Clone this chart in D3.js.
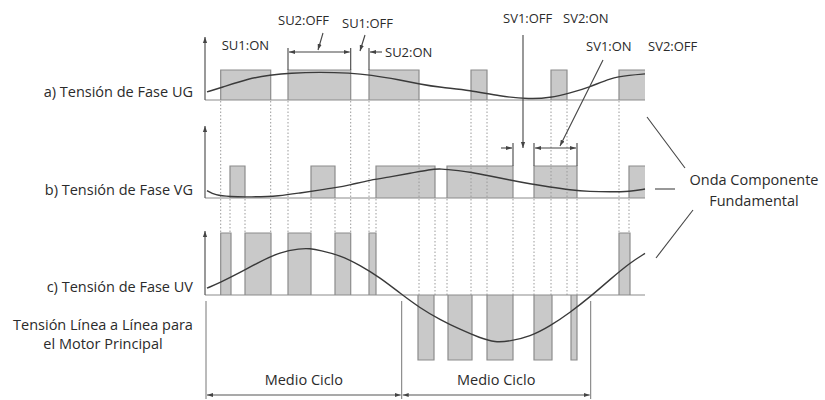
<!DOCTYPE html>
<html><head><meta charset="utf-8">
<script src="https://cdn.jsdelivr.net/npm/d3@7"></script>
<style>
body{margin:0;background:#fff;}
text{font-family:"Open Sans","Noto Sans",sans-serif;fill:#2b2b2b;}
</style>
</head><body>
<svg id="chart" width="825" height="400"></svg>
<script>
// ---------- DATA (time units along the horizontal axis, 0..440) ----------
const panelLabels = ["a) Tensión de Fase UG", "b) Tensión de Fase VG", "c) Tensión de Fase UV"];
const lineLabel = ["Tensión Línea a Línea para", "el Motor Principal"];
const fundamentalLabel = ["Onda Componente", "Fundamental"];
const halfCycleLabel = "Medio Ciclo";
const halfCycleBounds = [1, 196.7, 385.7];

// switching pulses [start, end]
const uPulses = [[15.7, 65.7], [83, 145.7], [164, 214], [266, 282], [346, 362], [414, 440]];
const vPulses = [[25, 40], [106, 130], [171, 230], [242, 308], [329, 372], [424, 440]];
const uvPosPulses = [[15.7, 26], [40, 66], [83, 106], [130, 145.7], [164, 171], [414, 425]];
const uvNegPulses = [[213, 229], [243, 267], [282, 308], [329, 347], [366, 372]];

// fundamental waves [t, level]
const ugWave = [[2,0.27],[15,0.4],[45,0.73],[65,0.83],[85,0.9],[115,0.93],[145,0.9],[165,0.84],[195,0.67],[215,0.53],[235,0.42],[265,0.33],[295,0.12],[325,0.03],[345,0.07],[365,0.23],[385,0.43],[405,0.73],[425,0.83],[440,0.87]];
const vgWave = [[2,0.23],[10,0.09],[25,0.04],[45,0.03],[75,0.06],[95,0.16],[115,0.25],[130,0.32],[145,0.41],[165,0.56],[185,0.66],[205,0.77],[225,0.89],[235,0.92],[255,0.85],[265,0.81],[285,0.69],[305,0.56],[325,0.44],[345,0.34],[365,0.25],[385,0.2],[405,0.19],[425,0.2],[440,0.28]];
const uvWave = [[2,0.11],[15,0.2],[35,0.36],[55,0.54],[75,0.69],[95,0.75],[105,0.75],[115,0.72],[135,0.64],[155,0.48],[175,0.28],[195,0.03],[215,-0.2],[235,-0.38],[255,-0.53],[275,-0.66],[290,-0.73],[305,-0.71],[325,-0.64],[345,-0.48],[365,-0.27],[385,-0.03],[405,0.25],[425,0.52],[440,0.67]];

// ---------- SCALES ----------
const svg = d3.select("#chart");
const x = d3.scaleLinear().domain([0, 440]).range([205, 645]);
const ya = d3.scaleLinear().domain([0, 1]).range([100, 70]);
const yb = d3.scaleLinear().domain([0, 1]).range([198, 166]);
const yc = d3.scaleLinear().domain([-1, 0, 1]).range([360, 295, 233]);

const lineCol = "#555", pulseStroke = "#8c8c8c", pulseFill = "#c9c9c9";
const labelSize = 14.5, annSize = 13;

const defs = svg.append("defs");
function marker(id, orient) {
  defs.append("marker").attr("id", id).attr("viewBox", "0 0 10 10")
    .attr("refX", 10).attr("refY", 5).attr("markerWidth", 6).attr("markerHeight", 6)
    .attr("orient", orient).attr("markerUnits", "userSpaceOnUse")
    .append("path").attr("d", "M0,1.5 L10,5 L0,8.5 Z").attr("fill", "#444");
}
marker("arr", "auto");
marker("arrS", "auto-start-reverse");

// ---------- PULSES ----------
function drawPulses(pulses, y, level) {
  svg.append("g").selectAll("rect").data(pulses).join("rect")
    .attr("x", d => x(d[0])).attr("width", d => x(d[1]) - x(d[0]))
    .attr("y", d => Math.min(y(level), y(0))).attr("height", d => Math.abs(y(level) - y(0)))
    .attr("fill", pulseFill);
}
function drawWave(pulseSets, y) {
  svg.append("line").attr("x1", x(0)).attr("x2", x(440)).attr("y1", y(0)).attr("y2", y(0))
    .attr("stroke", pulseStroke).attr("stroke-width", 1.2);
  pulseSets.forEach(([pulses, level]) => {
    pulses.forEach(p => {
      const pts = [[p[0], 0], [p[0], level], [p[1], level]];
      if (p[1] < 440) pts.push([p[1], 0]);
      svg.append("path").attr("d", d3.line().x(d => x(d[0])).y(d => y(d[1]))(pts))
        .attr("fill", "none").attr("stroke", pulseStroke).attr("stroke-width", 1.2);
    });
  });
}
drawPulses(uPulses, ya, 1);
drawPulses(vPulses, yb, 1);
drawPulses(uvPosPulses, yc, 1);
drawPulses(uvNegPulses, yc, -1);

// ---------- DOTTED PROJECTION LINES ----------
const negEdges = uvNegPulses.flat();
function endY(t) {
  return negEdges.some(e => Math.abs(e - t) < 4.5) ? yc(0) : yc(1);
}
const uEdges = uPulses.flat().filter(t => t < 440);
const vEdges = vPulses.flat().filter(t => t < 440);
const dots = svg.append("g").attr("stroke", "#9a9a9a").attr("stroke-width", 1).attr("stroke-dasharray", "1.5,2");
uEdges.forEach(t => dots.append("line").attr("x1", x(t)).attr("x2", x(t)).attr("y1", ya(0) + 1).attr("y2", endY(t)));
vEdges.forEach(t => dots.append("line").attr("x1", x(t)).attr("x2", x(t)).attr("y1", yb(0) + 1).attr("y2", endY(t)));

drawWave([[uPulses, 1]], ya);
drawWave([[vPulses, 1]], yb);
drawWave([[uvPosPulses, 1], [uvNegPulses, -1]], yc);

// ---------- FUNDAMENTAL WAVES ----------
[[ugWave, ya], [vgWave, yb], [uvWave, yc]].forEach(([w, y]) => {
  svg.append("path").attr("d", d3.line().x(d => x(d[0])).y(d => y(d[1])).curve(d3.curveBasis)(w))
    .attr("fill", "none").attr("stroke", "#3a3a3a").attr("stroke-width", 1.4);
});

// ---------- AXES ----------
[[ya, 37], [yb, 126], [yc, 231]].forEach(([y, top]) => {
  svg.append("line").attr("x1", x(0)).attr("x2", x(0)).attr("y1", y(0)).attr("y2", top)
    .attr("stroke", lineCol).attr("stroke-width", 1.2).attr("marker-end", "url(#arr)");
});

// ---------- LEFT LABELS ----------
const ys = [ya, yb, yc];
panelLabels.forEach((s, i) => {
  svg.append("text").attr("x", 193).attr("y", ys[i](0) - 3).attr("text-anchor", "end")
    .attr("font-size", labelSize).text(s);
});
lineLabel.forEach((s, i) => {
  svg.append("text").attr("x", 103).attr("y", 330 + i * 19).attr("text-anchor", "middle")
    .attr("font-size", labelSize).text(s);
});

// ---------- HALF CYCLE BRACKETS ----------
halfCycleBounds.forEach(t => {
  svg.append("line").attr("x1", x(t)).attr("x2", x(t)).attr("y1", 301).attr("y2", 399)
    .attr("stroke", "#777").attr("stroke-width", 1);
});
for (let i = 0; i < 2; i++) {
  const a = halfCycleBounds[i], b = halfCycleBounds[i + 1];
  svg.append("line").attr("x1", x(a) + 1).attr("x2", x(b) - 1).attr("y1", 395).attr("y2", 395)
    .attr("stroke", "#555").attr("stroke-width", 1.1)
    .attr("marker-end", "url(#arr)").attr("marker-start", "url(#arrS)");
  svg.append("text").attr("x", (x(a) + x(b)) / 2).attr("y", 385).attr("text-anchor", "middle")
    .attr("font-size", labelSize).text(halfCycleLabel);
}

// ---------- ANNOTATIONS ----------
const ann = svg.append("g");
function aline(x1, y1, x2, y2, end, start) {
  const l = ann.append("line").attr("x1", x1).attr("y1", y1).attr("x2", x2).attr("y2", y2)
    .attr("stroke", "#444").attr("stroke-width", 1.1);
  if (end) l.attr("marker-end", "url(#arr)");
  if (start) l.attr("marker-start", "url(#arrS)");
}
function atext(s, px, py, anchor) {
  ann.append("text").attr("x", px).attr("y", py).attr("font-size", annSize)
    .attr("text-anchor", anchor || "start").text(s);
}
// U switching annotations
atext("SU1:ON", x(uPulses[0][0]) + 1, 50);
atext("SU2:OFF", 278, 25);
atext("SU1:OFF", 342, 28);
atext("SU2:ON", 385, 57);
aline(x(uPulses[1][0]), 48, x(uPulses[1][0]), ya(1));
aline(x(uPulses[1][1]), 48, x(uPulses[1][1]), ya(1));
aline(x(uPulses[2][0]), 48, x(uPulses[2][0]), ya(1));
aline(x(uPulses[1][0]) + 1, 52, x(uPulses[1][1]) - 1, 52, true, true);
aline(323, 33, 318, 50, true);
aline(365, 35, 360, 51, true);
aline(382, 52, x(uPulses[2][0]) + 1, 52, true);
// V switching annotations
atext("SV1:OFF", 503, 23);
atext("SV2:ON", 563, 23);
atext("SV1:ON", 586, 51);
atext("SV2:OFF", 648, 51);
aline(523, 35, 523, 148, true);
aline(603, 60, 560, 146, true);
aline(x(vPulses[3][1]), 143, x(vPulses[3][1]), yb(1));
aline(x(vPulses[4][0]), 143, x(vPulses[4][0]), yb(1));
aline(x(vPulses[4][1]), 143, x(vPulses[4][1]), yb(1));
aline(501, 148, x(vPulses[3][1]) - 1, 148, true);
aline(x(vPulses[4][0]) + 1, 148, x(vPulses[4][1]) - 1, 148, true, true);
// fundamental label
fundamentalLabel.forEach((s, i) => {
  svg.append("text").attr("x", 754).attr("y", 185 + i * 21).attr("text-anchor", "middle")
    .attr("font-size", labelSize).text(s);
});
aline(647, 117, 685, 168);
aline(655, 189, 675, 189);
aline(693, 210, 656, 258);
</script>
</body></html>
